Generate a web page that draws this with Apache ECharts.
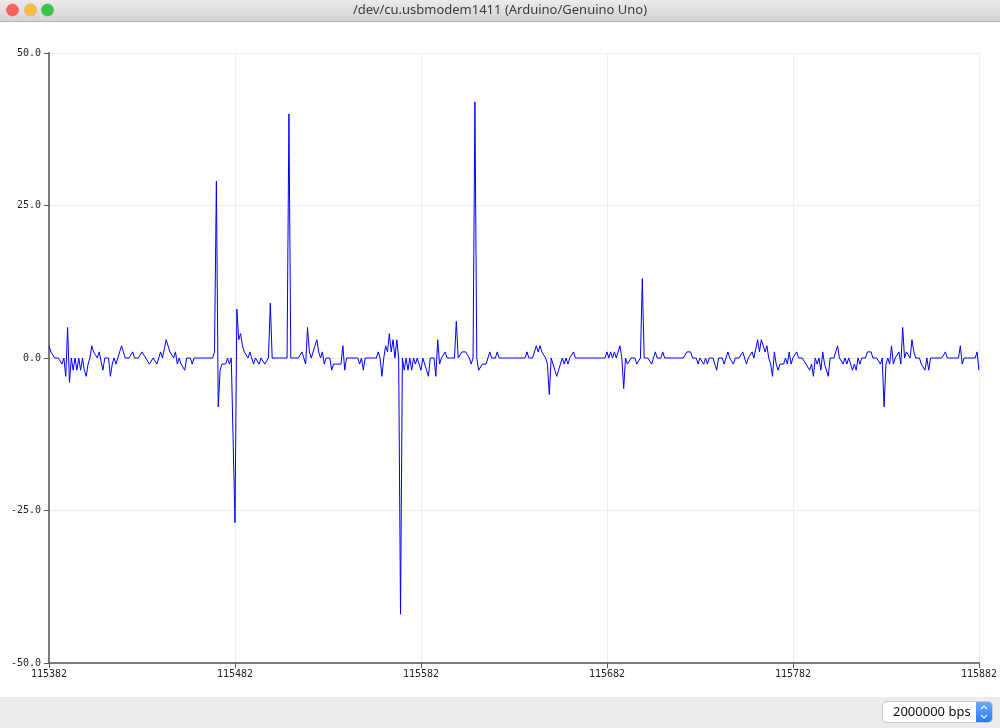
<!DOCTYPE html>
<html>
<head>
<meta charset="utf-8">
<script src="https://cdn.jsdelivr.net/npm/echarts@6/dist/echarts.min.js"></script>
<style>
html,body{margin:0;padding:0;background:#fff;}
#chart{width:1000px;height:728px;}
</style>
</head>
<body>
<div id="chart"></div>
<script>
// ---- data ----
const windowTitle = '/dev/cu.usbmodem1411 (Arduino/Genuino Uno)';
const baudLabel = '2000000 bps';
const firstSample = 115382;
const lastSample = 115882;
const xTickLabels = ['115382','115482','115582','115682','115782','115882'];
const yTickValues = [-50, -25, 0, 25, 50];
const sensorValues = [
  2,1,1,0,0,0,0,-1,0,-3,
  5,-4,0,-2,0,-2,0,-2,0,-2,
  -3,-1,0,2,1,1,0,1,1,-2,
  0,0,0,-3,-1,0,-1,0,1,2,
  1,0,0,0,0,1,0,0,0,0,
  1,1,0,0,-1,-1,0,0,-1,0,
  1,0,0,3,2,1,1,0,1,-1,
  0,-1,-1,-2,0,0,0,-1,0,0,
  0,0,0,0,0,0,0,0,0,1,
  29,-8,-2,-1,-1,-1,0,-1,0,0,
  -27,8,3,4,2,1,1,0,1,0,
  -1,0,0,-1,0,0,-1,-1,0,9,
  0,0,0,0,0,0,0,0,0,40,
  0,0,0,0,0,0,1,0,-1,5,
  1,0,0,2,3,1,0,1,-1,0,
  0,0,-2,-1,-1,-1,-1,-1,2,-2,
  0,0,0,0,0,0,0,-1,0,-2,
  0,0,0,0,0,0,0,1,0,-3,
  0,2,1,4,1,3,0,3,0,-42,
  0,-2,0,-2,0,-2,0,-1,0,-1,
  -2,0,-1,-2,-3,0,0,0,-3,3,
  -1,0,0,1,0,0,0,0,0,6,
  0,0,1,1,1,1,0,-1,0,42,
  0,-2,-2,-1,-1,-1,-1,1,0,0,
  0,1,0,0,0,0,0,0,0,0,
  0,0,0,0,0,0,0,1,0,0,
  0,0,2,1,2,1,1,0,-1,-6,
  0,0,-2,-3,-2,-1,0,-1,0,-1,
  0,0,1,0,0,0,0,0,0,0,
  0,0,0,0,0,0,0,0,0,0,
  1,0,1,0,1,0,0,2,0,-5,
  0,-1,-1,0,0,0,-1,-1,0,13,
  0,0,0,0,-1,0,1,0,0,0,
  1,0,0,0,0,0,0,0,0,0,
  0,0,0,1,1,1,0,0,0,-1,
  0,0,-1,0,-1,0,0,0,-1,-2,
  0,0,0,-1,0,1,0,0,-1,0,
  0,0,0,1,0,-1,0,0,1,0,
  0,3,1,3,2,1,2,0,-1,-3,
  1,-1,-2,-1,-1,-1,0,-1,1,-1,
  0,0,1,0,0,0,0,-1,-1,-2,
  -1,-3,0,-1,0,-2,1,-1,-1,-3,
  0,0,0,0,2,0,0,-1,0,-1,
  0,0,-2,-1,-2,0,-1,0,0,0,
  1,1,1,0,0,0,0,-1,0,-8,
  -1,0,-1,2,-1,0,0,1,-1,5,
  0,1,1,0,3,1,0,0,0,-1,
  -1,-2,0,-2,0,0,0,0,0,0,
  0,0,1,0,0,0,0,0,0,0,
  2,-1,0,0,0,0,0,0,0,1,
  -2
];

// ---- build ----
const categories = [];
for (let s = firstSample; s <= lastSample; s++) categories.push(String(s));
const isTick = (idx, val) => xTickLabels.indexOf(String(val)) !== -1;

const chart = echarts.init(document.getElementById('chart'), null, {renderer: 'canvas'});
const monoFont = 'DejaVu Sans Mono';

chart.setOption({
  animation: false,
  backgroundColor: '#ffffff',
  grid: {left: 49, right: 16, top: 53, bottom: 65, containLabel: false},
  xAxis: {
    type: 'category',
    data: categories,
    boundaryGap: false,
    axisLine: {show: true, onZero: false, lineStyle: {color: '#7a7a7a', width: 2}},
    axisTick: {show: true, interval: isTick, length: 5, lineStyle: {color: '#555', width: 1}},
    axisLabel: {interval: isTick, margin: 6, color: '#222', fontFamily: monoFont, fontSize: 10,
      showMinLabel: true, showMaxLabel: true},
    splitLine: {show: true, interval: isTick, lineStyle: {color: '#eeeeee', width: 1}}
  },
  yAxis: {
    type: 'value',
    min: -50, max: 50, interval: 25,
    axisLine: {show: true, onZero: false, lineStyle: {color: '#7a7a7a', width: 2}},
    axisTick: {show: true, length: 5, lineStyle: {color: '#555', width: 1}},
    axisLabel: {margin: 8, color: '#222', fontFamily: monoFont, fontSize: 10,
      formatter: v => (yTickValues.indexOf(v) !== -1 ? v.toFixed(1) : '')},
    splitLine: {show: true, lineStyle: {color: '#eeeeee', width: 1}}
  },
  series: [{
    type: 'line',
    data: sensorValues,
    showSymbol: false,
    symbol: 'none',
    lineStyle: {color: '#0000ff', width: 1},
    silent: true
  }],
  graphic: [
    // title bar
    {type: 'rect', left: 0, top: 0, shape: {width: 1000, height: 21},
      style: {fill: new echarts.graphic.LinearGradient(0, 0, 0, 1, [
        {offset: 0, color: '#ebe9eb'}, {offset: 1, color: '#d5d3d5'}])}},
    {type: 'line', shape: {x1: 0, y1: 21.5, x2: 1000, y2: 21.5}, style: {stroke: '#b4b4b4', lineWidth: 1}},
    {type: 'circle', shape: {cx: 12.5, cy: 10, r: 6}, style: {fill: '#fc605b', stroke: '#de4a44', lineWidth: 0.5}},
    {type: 'circle', shape: {cx: 30.5, cy: 10, r: 6}, style: {fill: '#fdbc40', stroke: '#dea235', lineWidth: 0.5}},
    {type: 'circle', shape: {cx: 47.5, cy: 10, r: 6}, style: {fill: '#34c84a', stroke: '#27aa35', lineWidth: 0.5}},
    {type: 'text', x: 500, y: 10, style: {text: windowTitle, fill: '#3c3c3c', font: '13px "Noto Sans", sans-serif',
      textAlign: 'center', textVerticalAlign: 'middle'}},
    // bottom bar
    {type: 'rect', left: 0, top: 697, shape: {width: 1000, height: 31}, style: {fill: '#ececec'}},
    {type: 'rect', shape: {x: 882.5, y: 701.5, width: 110, height: 21, r: 4},
      style: {fill: '#ffffff', stroke: '#c9c9c9', lineWidth: 1}},
    {type: 'rect', shape: {x: 976, y: 702, width: 16, height: 20, r: [0, 4, 4, 0]},
      style: {fill: new echarts.graphic.LinearGradient(0, 0, 0, 1, [
        {offset: 0, color: '#67a9fa'}, {offset: 1, color: '#2b7cf0'}])}},
    {type: 'polyline', shape: {points: [[981, 709], [984, 706], [987, 709]]}, style: {stroke: '#fff', lineWidth: 1.2, fill: null}},
    {type: 'polyline', shape: {points: [[981, 715], [984, 718], [987, 715]]}, style: {stroke: '#fff', lineWidth: 1.2, fill: null}},
    {type: 'text', x: 893, y: 712, style: {text: baudLabel, fill: '#111', font: '13px "Noto Sans", sans-serif',
      textVerticalAlign: 'middle'}}
  ]
});
</script>
</body>
</html>
